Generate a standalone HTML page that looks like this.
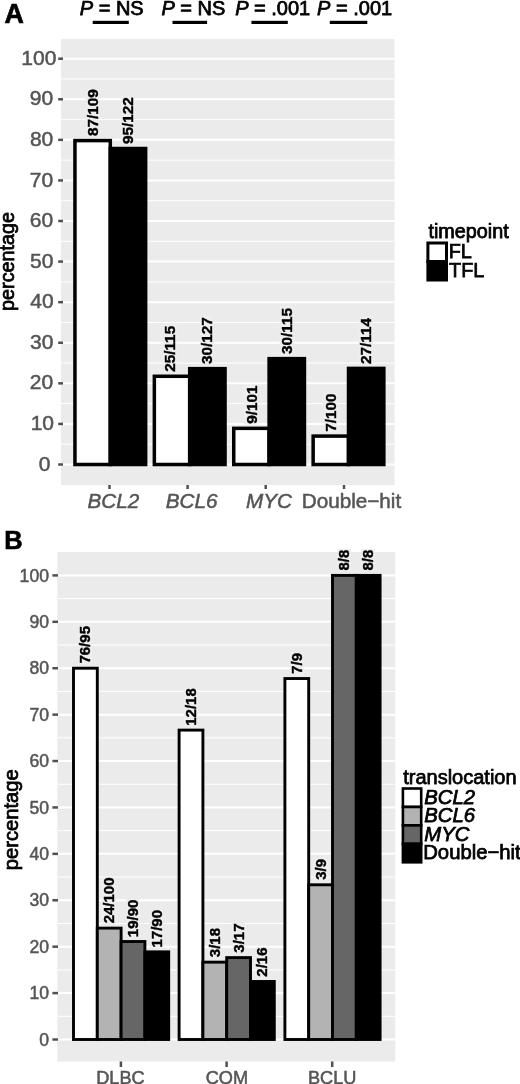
<!DOCTYPE html>
<html><head><meta charset="utf-8"><title>Translocation percentages</title>
<style>html,body{margin:0;padding:0;background:#fff;}body{width:520px;height:1084px;overflow:hidden;}svg{display:block;}</style>
</head><body>
<svg width="520" height="1084" viewBox="0 0 520 1084" font-family='"Liberation Sans", Arial, Helvetica, sans-serif'>
<rect width="520" height="1084" fill="#FFFFFF"/>
<rect x="61" y="39" width="333.5" height="446" fill="#EBEBEB"/>
<line x1="61" x2="394.5" y1="444.21" y2="444.21" stroke="#FFFFFF" stroke-width="1"/>
<line x1="61" x2="394.5" y1="403.63" y2="403.63" stroke="#FFFFFF" stroke-width="1"/>
<line x1="61" x2="394.5" y1="363.05" y2="363.05" stroke="#FFFFFF" stroke-width="1"/>
<line x1="61" x2="394.5" y1="322.47" y2="322.47" stroke="#FFFFFF" stroke-width="1"/>
<line x1="61" x2="394.5" y1="281.89" y2="281.89" stroke="#FFFFFF" stroke-width="1"/>
<line x1="61" x2="394.5" y1="241.31" y2="241.31" stroke="#FFFFFF" stroke-width="1"/>
<line x1="61" x2="394.5" y1="200.73" y2="200.73" stroke="#FFFFFF" stroke-width="1"/>
<line x1="61" x2="394.5" y1="160.15" y2="160.15" stroke="#FFFFFF" stroke-width="1"/>
<line x1="61" x2="394.5" y1="119.57" y2="119.57" stroke="#FFFFFF" stroke-width="1"/>
<line x1="61" x2="394.5" y1="78.99" y2="78.99" stroke="#FFFFFF" stroke-width="1"/>
<line x1="61" x2="394.5" y1="464.5" y2="464.5" stroke="#FFFFFF" stroke-width="2"/>
<line x1="61" x2="394.5" y1="423.92" y2="423.92" stroke="#FFFFFF" stroke-width="2"/>
<line x1="61" x2="394.5" y1="383.34" y2="383.34" stroke="#FFFFFF" stroke-width="2"/>
<line x1="61" x2="394.5" y1="342.76" y2="342.76" stroke="#FFFFFF" stroke-width="2"/>
<line x1="61" x2="394.5" y1="302.18" y2="302.18" stroke="#FFFFFF" stroke-width="2"/>
<line x1="61" x2="394.5" y1="261.6" y2="261.6" stroke="#FFFFFF" stroke-width="2"/>
<line x1="61" x2="394.5" y1="221.02" y2="221.02" stroke="#FFFFFF" stroke-width="2"/>
<line x1="61" x2="394.5" y1="180.44" y2="180.44" stroke="#FFFFFF" stroke-width="2"/>
<line x1="61" x2="394.5" y1="139.86" y2="139.86" stroke="#FFFFFF" stroke-width="2"/>
<line x1="61" x2="394.5" y1="99.28" y2="99.28" stroke="#FFFFFF" stroke-width="2"/>
<line x1="61" x2="394.5" y1="58.7" y2="58.7" stroke="#FFFFFF" stroke-width="2"/>
<rect x="74.95" y="140.6" width="35.35" height="323.9" fill="#FFFFFF" stroke="#000" stroke-width="3.5"/>
<rect x="110.3" y="148.51" width="35.35" height="315.99" fill="#000000" stroke="#000" stroke-width="3.5"/>
<rect x="154.35" y="376.28" width="35.35" height="88.22" fill="#FFFFFF" stroke="#000" stroke-width="3.5"/>
<rect x="189.7" y="368.64" width="35.35" height="95.86" fill="#000000" stroke="#000" stroke-width="3.5"/>
<rect x="233.75" y="428.34" width="35.35" height="36.16" fill="#FFFFFF" stroke="#000" stroke-width="3.5"/>
<rect x="269.1" y="358.64" width="35.35" height="105.86" fill="#000000" stroke="#000" stroke-width="3.5"/>
<rect x="313.15" y="436.09" width="35.35" height="28.41" fill="#FFFFFF" stroke="#000" stroke-width="3.5"/>
<rect x="348.5" y="368.39" width="35.35" height="96.11" fill="#000000" stroke="#000" stroke-width="3.5"/>
<rect x="85.43" y="88.66" width="13.79" height="48.14" fill="#EEEEEE"/><text transform="translate(97.72,136.09) rotate(-90)" font-size="15.3" fill="#000" font-weight="bold" stroke="#000" stroke-width="0.4">87/109</text>
<rect x="120.78" y="96.65" width="13.79" height="48.05" fill="#EEEEEE"/><text transform="translate(133.07,144.04) rotate(-90)" font-size="15.3" fill="#000" font-weight="bold" stroke="#000" stroke-width="0.4">95/122</text>
<rect x="162.83" y="324.24" width="13.79" height="48.24" fill="#EEEEEE"/><text transform="translate(175.12,371.81) rotate(-90)" font-size="15.3" fill="#000" font-weight="bold" stroke="#000" stroke-width="0.4">25/115</text>
<rect x="200.18" y="316.67" width="13.79" height="48.17" fill="#EEEEEE"/><text transform="translate(212.47,363.99) rotate(-90)" font-size="15.3" fill="#000" font-weight="bold" stroke="#000" stroke-width="0.4">30/127</text>
<rect x="244.23" y="384.81" width="13.79" height="39.73" fill="#EEEEEE"/><text transform="translate(256.52,423.87) rotate(-90)" font-size="15.3" fill="#000" font-weight="bold" stroke="#000" stroke-width="0.4">9/101</text>
<rect x="279.58" y="306.42" width="13.79" height="48.42" fill="#EEEEEE"/><text transform="translate(291.87,353.99) rotate(-90)" font-size="15.3" fill="#000" font-weight="bold" stroke="#000" stroke-width="0.4">30/115</text>
<rect x="323.63" y="392.89" width="13.79" height="39.4" fill="#EEEEEE"/><text transform="translate(335.92,431.75) rotate(-90)" font-size="15.3" fill="#000" font-weight="bold" stroke="#000" stroke-width="0.4">7/100</text>
<rect x="358.98" y="316.01" width="13.79" height="48.58" fill="#EEEEEE"/><text transform="translate(371.27,363.92) rotate(-90)" font-size="15.3" fill="#000" font-weight="bold" stroke="#000" stroke-width="0.4">27/114</text>
<line x1="58.2" x2="63" y1="464.5" y2="464.5" stroke="#505050" stroke-width="2.5"/>
<line x1="58.2" x2="63" y1="423.92" y2="423.92" stroke="#505050" stroke-width="2.5"/>
<line x1="58.2" x2="63" y1="383.34" y2="383.34" stroke="#505050" stroke-width="2.5"/>
<line x1="58.2" x2="63" y1="342.76" y2="342.76" stroke="#505050" stroke-width="2.5"/>
<line x1="58.2" x2="63" y1="302.18" y2="302.18" stroke="#505050" stroke-width="2.5"/>
<line x1="58.2" x2="63" y1="261.6" y2="261.6" stroke="#505050" stroke-width="2.5"/>
<line x1="58.2" x2="63" y1="221.02" y2="221.02" stroke="#505050" stroke-width="2.5"/>
<line x1="58.2" x2="63" y1="180.44" y2="180.44" stroke="#505050" stroke-width="2.5"/>
<line x1="58.2" x2="63" y1="139.86" y2="139.86" stroke="#505050" stroke-width="2.5"/>
<line x1="58.2" x2="63" y1="99.28" y2="99.28" stroke="#505050" stroke-width="2.5"/>
<line x1="58.2" x2="63" y1="58.7" y2="58.7" stroke="#505050" stroke-width="2.5"/>
<text x="38.78" y="470.63" font-size="21" fill="#555555" stroke="#555555" stroke-width="0.5">0</text>
<text x="30.7" y="430.05" font-size="21" fill="#555555" stroke="#555555" stroke-width="0.5">10</text>
<text x="29.74" y="389.47" font-size="21" fill="#555555" stroke="#555555" stroke-width="0.5">20</text>
<text x="30" y="348.89" font-size="21" fill="#555555" stroke="#555555" stroke-width="0.5">30</text>
<text x="30.32" y="308.31" font-size="21" fill="#555555" stroke="#555555" stroke-width="0.5">40</text>
<text x="29.96" y="267.73" font-size="21" fill="#555555" stroke="#555555" stroke-width="0.5">50</text>
<text x="29.73" y="227.15" font-size="21" fill="#555555" stroke="#555555" stroke-width="0.5">60</text>
<text x="29.72" y="186.57" font-size="21" fill="#555555" stroke="#555555" stroke-width="0.5">70</text>
<text x="29.89" y="145.99" font-size="21" fill="#555555" stroke="#555555" stroke-width="0.5">80</text>
<text x="29.82" y="105.41" font-size="21" fill="#555555" stroke="#555555" stroke-width="0.5">90</text>
<text x="21.3" y="64.83" font-size="21" fill="#555555" stroke="#555555" stroke-width="0.5">100</text>
<line x1="109.5" x2="109.5" y1="485" y2="489" stroke="#505050" stroke-width="2.5"/>
<line x1="187.6" x2="187.6" y1="485" y2="489" stroke="#505050" stroke-width="2.5"/>
<line x1="265.7" x2="265.7" y1="485" y2="489" stroke="#505050" stroke-width="2.5"/>
<line x1="344" x2="344" y1="485" y2="489" stroke="#505050" stroke-width="2.5"/>
<text x="87.46" y="508" font-size="20.7" fill="#555555" font-style="italic" stroke="#555555" stroke-width="0.5">BCL2</text>
<text x="165.76" y="508" font-size="20.7" fill="#555555" font-style="italic" stroke="#555555" stroke-width="0.5">BCL6</text>
<text x="245.96" y="508" font-size="20.7" fill="#555555" font-style="italic" stroke="#555555" stroke-width="0.5">MYC</text>
<text x="301.7" y="508" font-size="20.7" fill="#555555" stroke="#555555" stroke-width="0.5">Double−hit</text>
<text transform="translate(14.4,310.88) rotate(-90)" font-size="19.8" fill="#000" stroke="#000" stroke-width="0.75">percentage</text>
<text x="4.53" y="22.5" font-size="26.8" fill="#000" font-weight="bold" stroke="#000" stroke-width="0.7">A</text>
<text x="79.78" y="14.8" font-size="20" fill="#000" stroke="#000" stroke-width="0.75"><tspan font-style="italic">P</tspan> = NS</text>
<rect x="92.7" y="20.8" width="36.1" height="3.2" fill="#000"/>
<text x="161.48" y="14.8" font-size="20" fill="#000" stroke="#000" stroke-width="0.75"><tspan font-style="italic">P</tspan> = NS</text>
<rect x="172.5" y="20.8" width="34.6" height="3.2" fill="#000"/>
<text x="235.18" y="14.8" font-size="20" fill="#000" stroke="#000" stroke-width="0.75"><tspan font-style="italic">P</tspan> = .001</text>
<rect x="251.4" y="20.8" width="36.4" height="3.2" fill="#000"/>
<text x="317.08" y="14.8" font-size="20" fill="#000" stroke="#000" stroke-width="0.75"><tspan font-style="italic">P</tspan> = .001</text>
<rect x="329.8" y="20.8" width="37.5" height="3.2" fill="#000"/>
<text x="428.4" y="237.7" font-size="19.8" fill="#000" stroke="#000" stroke-width="0.75">timepoint</text>
<rect x="427.9" y="243" width="18.6" height="18.5" fill="#FFF" stroke="#000" stroke-width="3"/>
<rect x="427.9" y="261.5" width="18.6" height="18.5" fill="#000" stroke="#000" stroke-width="3"/>
<text x="448.68" y="258.4" font-size="19.8" fill="#000" stroke="#000" stroke-width="0.75">FL</text>
<text x="449.06" y="276.9" font-size="19.8" fill="#000" stroke="#000" stroke-width="0.75">TFL</text>
<rect x="57.3" y="552" width="338" height="509.5" fill="#EBEBEB"/>
<line x1="57.3" x2="395.3" y1="1016.29" y2="1016.29" stroke="#FFFFFF" stroke-width="1"/>
<line x1="57.3" x2="395.3" y1="969.88" y2="969.88" stroke="#FFFFFF" stroke-width="1"/>
<line x1="57.3" x2="395.3" y1="923.48" y2="923.48" stroke="#FFFFFF" stroke-width="1"/>
<line x1="57.3" x2="395.3" y1="877.07" y2="877.07" stroke="#FFFFFF" stroke-width="1"/>
<line x1="57.3" x2="395.3" y1="830.65" y2="830.65" stroke="#FFFFFF" stroke-width="1"/>
<line x1="57.3" x2="395.3" y1="784.25" y2="784.25" stroke="#FFFFFF" stroke-width="1"/>
<line x1="57.3" x2="395.3" y1="737.84" y2="737.84" stroke="#FFFFFF" stroke-width="1"/>
<line x1="57.3" x2="395.3" y1="691.42" y2="691.42" stroke="#FFFFFF" stroke-width="1"/>
<line x1="57.3" x2="395.3" y1="645.01" y2="645.01" stroke="#FFFFFF" stroke-width="1"/>
<line x1="57.3" x2="395.3" y1="598.61" y2="598.61" stroke="#FFFFFF" stroke-width="1"/>
<line x1="57.3" x2="395.3" y1="1039.5" y2="1039.5" stroke="#FFFFFF" stroke-width="2"/>
<line x1="57.3" x2="395.3" y1="993.09" y2="993.09" stroke="#FFFFFF" stroke-width="2"/>
<line x1="57.3" x2="395.3" y1="946.68" y2="946.68" stroke="#FFFFFF" stroke-width="2"/>
<line x1="57.3" x2="395.3" y1="900.27" y2="900.27" stroke="#FFFFFF" stroke-width="2"/>
<line x1="57.3" x2="395.3" y1="853.86" y2="853.86" stroke="#FFFFFF" stroke-width="2"/>
<line x1="57.3" x2="395.3" y1="807.45" y2="807.45" stroke="#FFFFFF" stroke-width="2"/>
<line x1="57.3" x2="395.3" y1="761.04" y2="761.04" stroke="#FFFFFF" stroke-width="2"/>
<line x1="57.3" x2="395.3" y1="714.63" y2="714.63" stroke="#FFFFFF" stroke-width="2"/>
<line x1="57.3" x2="395.3" y1="668.22" y2="668.22" stroke="#FFFFFF" stroke-width="2"/>
<line x1="57.3" x2="395.3" y1="621.81" y2="621.81" stroke="#FFFFFF" stroke-width="2"/>
<line x1="57.3" x2="395.3" y1="575.4" y2="575.4" stroke="#FFFFFF" stroke-width="2"/>
<rect x="73.5" y="668.22" width="23.8" height="371.28" fill="#FFFFFF" stroke="#000" stroke-width="2.9"/>
<rect x="97.3" y="928.12" width="23.8" height="111.38" fill="#B3B3B3" stroke="#000" stroke-width="2.9"/>
<rect x="121.1" y="941.52" width="23.8" height="97.98" fill="#666666" stroke="#000" stroke-width="2.9"/>
<rect x="144.9" y="951.84" width="23.8" height="87.66" fill="#000000" stroke="#000" stroke-width="2.9"/>
<rect x="179.1" y="730.1" width="23.8" height="309.4" fill="#FFFFFF" stroke="#000" stroke-width="2.9"/>
<rect x="202.9" y="962.15" width="23.8" height="77.35" fill="#B3B3B3" stroke="#000" stroke-width="2.9"/>
<rect x="226.7" y="957.6" width="23.8" height="81.9" fill="#666666" stroke="#000" stroke-width="2.9"/>
<rect x="250.5" y="981.49" width="23.8" height="58.01" fill="#000000" stroke="#000" stroke-width="2.9"/>
<rect x="284.9" y="678.53" width="23.8" height="360.97" fill="#FFFFFF" stroke="#000" stroke-width="2.9"/>
<rect x="308.7" y="884.8" width="23.8" height="154.7" fill="#B3B3B3" stroke="#000" stroke-width="2.9"/>
<rect x="332.5" y="575.4" width="23.8" height="464.1" fill="#666666" stroke="#000" stroke-width="2.9"/>
<rect x="356.3" y="575.4" width="23.8" height="464.1" fill="#000000" stroke="#000" stroke-width="2.9"/>
<rect x="78.42" y="625.25" width="13.57" height="38.87" fill="#EEEEEE"/><text transform="translate(90.48,663.56) rotate(-90)" font-size="15" fill="#000" font-weight="bold" stroke="#000" stroke-width="0.4">76/95</text>
<rect x="102.22" y="876.87" width="13.57" height="47.14" fill="#EEEEEE"/><text transform="translate(114.28,923.34) rotate(-90)" font-size="15" fill="#000" font-weight="bold" stroke="#000" stroke-width="0.4">24/100</text>
<rect x="126.02" y="899.05" width="13.57" height="38.38" fill="#EEEEEE"/><text transform="translate(138.08,937.17) rotate(-90)" font-size="15" fill="#000" font-weight="bold" stroke="#000" stroke-width="0.4">19/90</text>
<rect x="149.82" y="909.36" width="13.57" height="38.38" fill="#EEEEEE"/><text transform="translate(161.88,947.48) rotate(-90)" font-size="15" fill="#000" font-weight="bold" stroke="#000" stroke-width="0.4">17/90</text>
<rect x="184.02" y="687.47" width="13.57" height="38.53" fill="#EEEEEE"/><text transform="translate(196.08,725.74) rotate(-90)" font-size="15" fill="#000" font-weight="bold" stroke="#000" stroke-width="0.4">12/18</text>
<rect x="207.82" y="927.26" width="13.57" height="30.79" fill="#EEEEEE"/><text transform="translate(219.88,957.19) rotate(-90)" font-size="15" fill="#000" font-weight="bold" stroke="#000" stroke-width="0.4">3/18</text>
<rect x="231.62" y="922.91" width="13.57" height="30.59" fill="#EEEEEE"/><text transform="translate(243.68,952.64) rotate(-90)" font-size="15" fill="#000" font-weight="bold" stroke="#000" stroke-width="0.4">3/17</text>
<rect x="255.42" y="946.86" width="13.57" height="30.53" fill="#EEEEEE"/><text transform="translate(267.48,976.71) rotate(-90)" font-size="15" fill="#000" font-weight="bold" stroke="#000" stroke-width="0.4">2/16</text>
<rect x="289.82" y="652.38" width="13.57" height="22.05" fill="#EEEEEE"/><text transform="translate(301.88,673.88) rotate(-90)" font-size="15" fill="#000" font-weight="bold" stroke="#000" stroke-width="0.4">7/9</text>
<rect x="313.62" y="858.35" width="13.57" height="22.35" fill="#EEEEEE"/><text transform="translate(325.68,879.84) rotate(-90)" font-size="15" fill="#000" font-weight="bold" stroke="#000" stroke-width="0.4">3/9</text>
<rect x="337.42" y="548.99" width="13.57" height="22.31" fill="#EEEEEE"/><text transform="translate(349.48,570.58) rotate(-90)" font-size="15" fill="#000" font-weight="bold" stroke="#000" stroke-width="0.4">8/8</text>
<rect x="361.22" y="548.99" width="13.57" height="22.31" fill="#EEEEEE"/><text transform="translate(373.28,570.58) rotate(-90)" font-size="15" fill="#000" font-weight="bold" stroke="#000" stroke-width="0.4">8/8</text>
<line x1="52.4" x2="58" y1="1039.5" y2="1039.5" stroke="#505050" stroke-width="2.5"/>
<line x1="52.4" x2="58" y1="993.09" y2="993.09" stroke="#505050" stroke-width="2.5"/>
<line x1="52.4" x2="58" y1="946.68" y2="946.68" stroke="#505050" stroke-width="2.5"/>
<line x1="52.4" x2="58" y1="900.27" y2="900.27" stroke="#505050" stroke-width="2.5"/>
<line x1="52.4" x2="58" y1="853.86" y2="853.86" stroke="#505050" stroke-width="2.5"/>
<line x1="52.4" x2="58" y1="807.45" y2="807.45" stroke="#505050" stroke-width="2.5"/>
<line x1="52.4" x2="58" y1="761.04" y2="761.04" stroke="#505050" stroke-width="2.5"/>
<line x1="52.4" x2="58" y1="714.63" y2="714.63" stroke="#505050" stroke-width="2.5"/>
<line x1="52.4" x2="58" y1="668.22" y2="668.22" stroke="#505050" stroke-width="2.5"/>
<line x1="52.4" x2="58" y1="621.81" y2="621.81" stroke="#505050" stroke-width="2.5"/>
<line x1="52.4" x2="58" y1="575.4" y2="575.4" stroke="#505050" stroke-width="2.5"/>
<text x="39.2" y="1045.64" font-size="17.6" fill="#555555" stroke="#555555" stroke-width="0.5">0</text>
<text x="29.41" y="999.23" font-size="17.6" fill="#555555" stroke="#555555" stroke-width="0.5">10</text>
<text x="29.41" y="952.82" font-size="17.6" fill="#555555" stroke="#555555" stroke-width="0.5">20</text>
<text x="29.41" y="906.41" font-size="17.6" fill="#555555" stroke="#555555" stroke-width="0.5">30</text>
<text x="29.41" y="860" font-size="17.6" fill="#555555" stroke="#555555" stroke-width="0.5">40</text>
<text x="29.41" y="813.59" font-size="17.6" fill="#555555" stroke="#555555" stroke-width="0.5">50</text>
<text x="29.41" y="767.18" font-size="17.6" fill="#555555" stroke="#555555" stroke-width="0.5">60</text>
<text x="29.41" y="720.77" font-size="17.6" fill="#555555" stroke="#555555" stroke-width="0.5">70</text>
<text x="29.41" y="674.36" font-size="17.6" fill="#555555" stroke="#555555" stroke-width="0.5">80</text>
<text x="29.41" y="627.95" font-size="17.6" fill="#555555" stroke="#555555" stroke-width="0.5">90</text>
<text x="19.62" y="581.54" font-size="17.6" fill="#555555" stroke="#555555" stroke-width="0.5">100</text>
<line x1="120.9" x2="120.9" y1="1061.5" y2="1067" stroke="#505050" stroke-width="2.5"/>
<text x="96.23" y="1083.71" font-size="18.2" fill="#555555" stroke="#555555" stroke-width="0.5">DLBC</text>
<line x1="226.6" x2="226.6" y1="1061.5" y2="1067" stroke="#505050" stroke-width="2.5"/>
<text x="205.65" y="1083.71" font-size="18.2" fill="#555555" stroke="#555555" stroke-width="0.5">COM</text>
<line x1="332.2" x2="332.2" y1="1061.5" y2="1067" stroke="#505050" stroke-width="2.5"/>
<text x="307.88" y="1083.71" font-size="18.2" fill="#555555" stroke="#555555" stroke-width="0.5">BCLU</text>
<text transform="translate(17.66,870.3) rotate(-90)" font-size="20.2" fill="#000" stroke="#000" stroke-width="0.75">percentage</text>
<text x="4.29" y="549.3" font-size="25.5" fill="#000" font-weight="bold" stroke="#000" stroke-width="0.6">B</text>
<text x="403.2" y="783.5" font-size="20" fill="#000" stroke="#000" stroke-width="0.75">translocation</text>
<rect x="402.9" y="788.5" width="18.3" height="18.45" fill="#FFFFFF" stroke="#000" stroke-width="2.6"/>
<rect x="402.9" y="806.95" width="18.3" height="18.45" fill="#B3B3B3" stroke="#000" stroke-width="2.6"/>
<rect x="402.9" y="825.4" width="18.3" height="18.45" fill="#666666" stroke="#000" stroke-width="2.6"/>
<rect x="402.9" y="843.85" width="18.3" height="18.45" fill="#000000" stroke="#000" stroke-width="2.6"/>
<text x="424.28" y="804.3" font-size="20.3" fill="#000" font-style="italic" stroke="#000" stroke-width="0.75">BCL2</text>
<text x="424.28" y="822.45" font-size="20.3" fill="#000" font-style="italic" stroke="#000" stroke-width="0.75">BCL6</text>
<text x="424.28" y="840.6" font-size="20.3" fill="#000" font-style="italic" stroke="#000" stroke-width="0.75">MYC</text>
<text x="423.23" y="858.75" font-size="20.3" fill="#000" stroke="#000" stroke-width="0.75">Double−hit</text>
</svg>
</body></html>
